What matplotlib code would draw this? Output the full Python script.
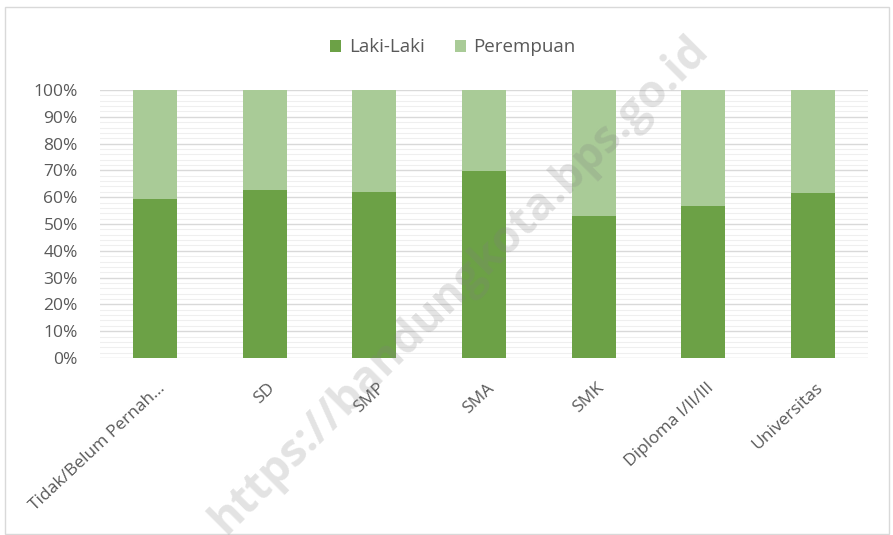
import numpy as np
import matplotlib.pyplot as plt
import matplotlib.transforms as mtransforms
from matplotlib.ticker import MultipleLocator, PercentFormatter
from matplotlib.patches import Rectangle

# ── Data ──────────────────────────────────────────────────────────────────────
categories = ["Tidak/Belum Pernah...", "SD", "SMP", "SMA", "SMK",
              "Diploma I/II/III", "Universitas"]
laki = [59.3, 62.7, 61.9, 69.7, 53.1, 56.6, 61.5]
perempuan = [100 - v for v in laki]

DARK = "#6ca146"
LIGHT = "#a9cb97"
TXT = "#595959"

plt.rcParams["font.family"] = ["Open Sans", "DejaVu Sans"]

fig = plt.figure(figsize=(8.93, 5.35), dpi=100)
ax = fig.add_axes([100 / 893, 1 - 358 / 535, 768 / 893, 268 / 535])

x = np.arange(len(categories))
ax.bar(x, laki, width=0.4, color=DARK, label="Laki-Laki", zorder=3)
ax.bar(x, perempuan, width=0.4, bottom=laki, color=LIGHT, label="Perempuan", zorder=3)

ax.set_xlim(-0.5, len(categories) - 0.5)
ax.set_ylim(0, 100)
ax.yaxis.set_major_locator(MultipleLocator(10))
ax.yaxis.set_minor_locator(MultipleLocator(2))
ax.yaxis.set_major_formatter(PercentFormatter(decimals=0))
ax.grid(axis="y", which="major", color="#d9d9d9", linewidth=1.0, zorder=0)
ax.grid(axis="y", which="minor", color="#efefef", linewidth=0.8, zorder=0)
for s in ax.spines.values():
    s.set_visible(False)
ax.tick_params(axis="both", which="both", length=0, colors=TXT)
ax.tick_params(axis="y", labelsize=12.5, pad=16)
ax.tick_params(axis="x", labelsize=12.5, pad=20)
ax.set_xticks(x)
ax.set_xticklabels(categories, rotation=43, ha="right", va="center",
                   rotation_mode="anchor")
shift = mtransforms.ScaledTranslation(8 / 100, 0, fig.dpi_scale_trans)
for lbl in ax.get_xticklabels():
    lbl.set_transform(lbl.get_transform() + shift)

fig.legend(loc="upper center", bbox_to_anchor=(0.507, 0.96), ncol=2, frameon=False,
           fontsize=13.5, labelcolor=TXT, handlelength=0.6, handleheight=0.6,
           handletextpad=0.4, columnspacing=1.6)

# watermark
fig.text(0.515, 0.468, "https://bandungkota.bps.go.id", rotation=45, ha="center",
         va="center", fontsize=32.5, fontweight="bold", color="#7f7f7f", alpha=0.22,
         zorder=10)

# outer border
fig.patches.append(Rectangle((0.006, 0.002), 0.99, 0.985, transform=fig.transFigure,
                             fill=False, edgecolor="#d9d9d9", linewidth=1))

fig.savefig("out.png", dpi=100)
